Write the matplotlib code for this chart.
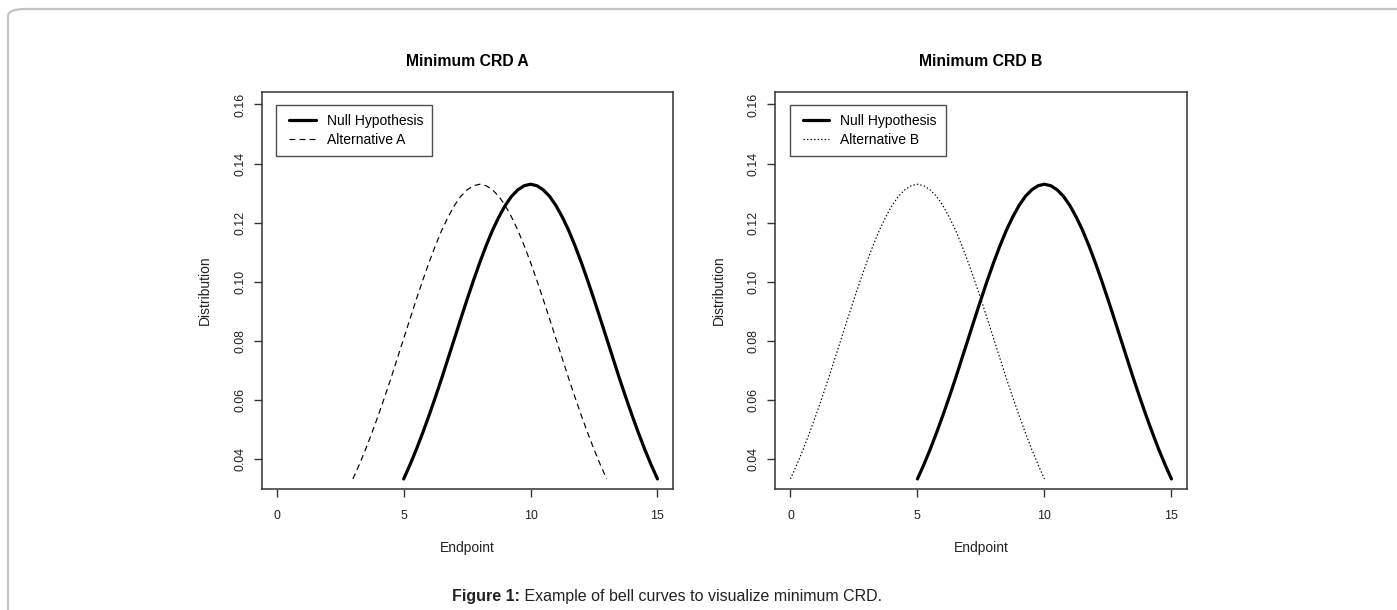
import numpy as np
import matplotlib
matplotlib.use("Agg")
import matplotlib.pyplot as plt
from matplotlib.patches import FancyBboxPatch
from matplotlib.lines import Line2D
from matplotlib.legend_handler import HandlerLine2D

plt.rcParams['font.family'] = ['Liberation Sans', 'DejaVu Sans']

# ---- data ----
# density heights of the bell curve at offsets -5..5 (step 0.25) from its centre
bell_heights = [0.0332, 0.0380, 0.0432, 0.0488, 0.0547, 0.0609, 0.0673, 0.0740,
                0.0807, 0.0874, 0.0940, 0.1004, 0.1065, 0.1122, 0.1174, 0.1219,
                0.1258, 0.1289, 0.1311, 0.1325, 0.1330, 0.1325, 0.1311, 0.1289,
                0.1258, 0.1219, 0.1174, 0.1122, 0.1065, 0.1004, 0.0940, 0.0874,
                0.0807, 0.0740, 0.0673, 0.0609, 0.0547, 0.0488, 0.0432, 0.0380,
                0.0332]
bell_offsets = np.linspace(-5, 5, len(bell_heights))
null_center = 10
alt_centers = [8, 5]
panel_titles = ["Minimum CRD A", "Minimum CRD B"]
alt_labels = ["Alternative A", "Alternative B"]
null_label = "Null Hypothesis"
x_ticks = [0, 5, 10, 15]
y_ticks = [0.04, 0.06, 0.08, 0.10, 0.12, 0.14, 0.16]
y_tick_labels = ["0.04", "0.06", "0.08", "0.10", "0.12", "0.14", "0.16"]
x_label = "Endpoint"
y_label = "Distribution"

W, H = 1397, 610
fig = plt.figure(figsize=(W / 100, H / 100), dpi=100)

# rounded grey frame
frame = FancyBboxPatch((8 / W, -0.2), 1.2, 1.2 - 9 / H,
                       boxstyle="round,pad=0,rounding_size=0.012",
                       transform=fig.transFigure, fill=False,
                       edgecolor="#c4c4c4", linewidth=1.6)
fig.patches.append(frame)

axes_px = [(261.5, 672.7), (775.2, 1186.7)]
top_px, bot_px = 91.5, 489
alt_styles = [(0, (5, 3.5)), (0, (1.2, 1.8))]

for i, (x0, x1) in enumerate(axes_px):
    ax = fig.add_axes([x0 / W, 1 - bot_px / H, (x1 - x0) / W, (bot_px - top_px) / H])
    ax.set_xlim(-0.6, 15.6)
    ax.set_ylim(0.0298, 0.1644)
    xa = bell_offsets + alt_centers[i]
    xn = bell_offsets + null_center
    ax.plot(xn, bell_heights, color="black", lw=2.3, solid_capstyle="round",
            label=null_label, zorder=3)
    ax.plot(xa, bell_heights, color="black", lw=0.85, linestyle=alt_styles[i],
            label=alt_labels[i], zorder=2)
    for s in ax.spines.values():
        s.set_linewidth(1.1)
        s.set_color("#333333")
    ax.set_xticks(x_ticks)
    ax.set_xticklabels([str(t) for t in x_ticks])
    ax.set_yticks(y_ticks)
    ax.set_yticklabels(y_tick_labels, rotation=90, va="center")
    ax.tick_params(axis="both", length=6, width=1.0, color="#333333",
                   labelsize=8.9, labelcolor="#222222")
    ax.tick_params(axis="x", pad=9)
    ax.tick_params(axis="y", pad=5)
    ax.set_xlabel(x_label, fontsize=10, labelpad=14, color="#222222")
    ax.set_ylabel(y_label, fontsize=10, labelpad=16, color="#222222")
    ax.set_title(panel_titles[i], fontsize=11.3, fontweight="bold", pad=18)
    leg = ax.legend(loc="upper left",
                    bbox_to_anchor=(14.5 / (x1 - x0), 1 - 13.5 / (bot_px - top_px)),
                    borderaxespad=0, fancybox=False, frameon=True, fontsize=10,
                    handlelength=2.2, handletextpad=0.8, borderpad=0.65,
                    labelspacing=0.35,
                    handler_map={Line2D: HandlerLine2D(xpad=0.3)})
    leg.get_frame().set_edgecolor("#222222")
    leg.get_frame().set_linewidth(1.0)

# caption
cap_y = 1 - 597 / H
t1 = fig.text(0.0, cap_y, "Figure 1:", fontsize=11.5, fontweight="bold",
              ha="left", va="center", color="#222222")
t2 = fig.text(0.0, cap_y, " Example of bell curves to visualize minimum CRD.",
              fontsize=11.5, ha="left", va="center", color="#222222")
fig.canvas.draw()
r = fig.canvas.get_renderer()
w1 = t1.get_window_extent(r).width
w2 = t2.get_window_extent(r).width
start = 667 - (w1 + w2) / 2
t1.set_x(start / W)
t2.set_x((start + w1) / W)

fig.savefig("out.png", dpi=100)
